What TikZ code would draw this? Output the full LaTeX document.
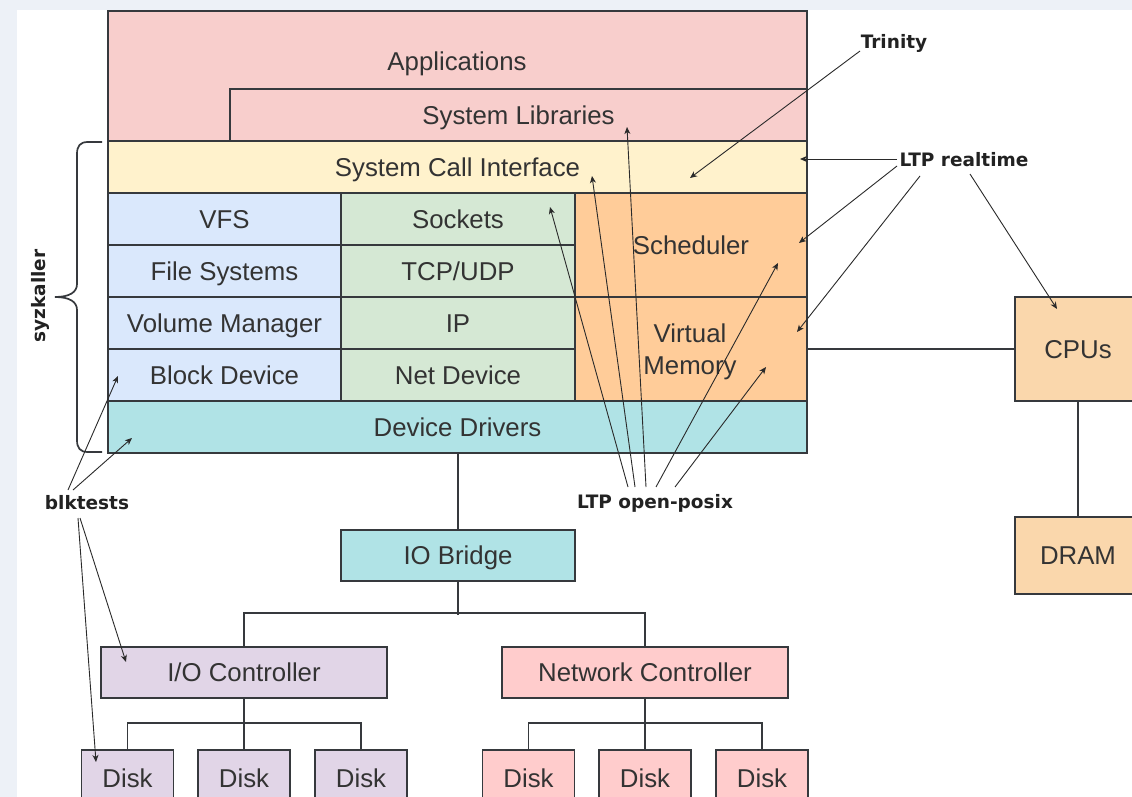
\documentclass[tikz,border=0pt]{standalone}
\usepackage{fontspec}
\setmainfont{Liberation Sans}
\newfontfamily\lblfont{DejaVu Sans}
\usetikzlibrary{arrows.meta}
\definecolor{bgc}{HTML}{EDF1F7}
\definecolor{linec}{HTML}{36393D}
\definecolor{txtc}{HTML}{333333}
\definecolor{lblc}{HTML}{222222}
\definecolor{arrc}{HTML}{2A2A2A}
\definecolor{redl}{HTML}{F8CECC}
\definecolor{yell}{HTML}{FFF2CC}
\definecolor{bluel}{HTML}{DAE8FC}
\definecolor{greenl}{HTML}{D5E8D4}
\definecolor{orang}{HTML}{FFCC99}
\definecolor{cyanl}{HTML}{B0E3E6}
\definecolor{purpl}{HTML}{E1D5E7}
\definecolor{pinkl}{HTML}{FFCCCC}
\definecolor{peach}{HTML}{FAD7AC}
\begin{document}
\begin{tikzpicture}[x=1pt,y=-1pt,
  box/.style={draw=linec,line width=1.7pt,inner sep=0pt,text=txtc,align=center,
    text height=18.5pt,text depth=0pt,font=\fontsize{25.8}{32}\selectfont},
  wh/.style 2 args={minimum width=#1pt,minimum height=#2pt},
  txt/.style={inner sep=0pt,text=txtc,text height=18.5pt,text depth=0pt,
    font=\fontsize{25.8}{32}\selectfont},
  lbl/.style={inner sep=0pt,text=lblc,font=\lblfont\bfseries\fontsize{18.5}{21}\selectfont},
  arr/.style={draw=arrc,line width=0.9pt,-{Stealth[length=7pt,width=6pt,inset=2pt]}},
  wire/.style={draw=linec,line width=1.7pt}]
\useasboundingbox (0,0) rectangle (1132,797);
\clip (0,0) rectangle (1132,797);
\fill[bgc] (0,0) rectangle (1132,797);
\fill[white] (17,10) rectangle (1140,805);

% kernel stack
\node[box,fill=redl,wh={699}{130}] (app) at (457.5,76) {};
\node[txt] (apptext) at (457,61) {Applications};
\node[box,fill=redl,wh={577}{52}] (syslib) at (518.5,115) {System Libraries};
\node[box,fill=yell,wh={699}{52}] (sci) at (457.5,167) {System Call Interface};
\node[box,fill=bluel,wh={233}{52}] (vfs) at (224.5,219) {VFS};
\node[box,fill=bluel,wh={233}{52}] (fs) at (224.5,271) {File Systems};
\node[box,fill=bluel,wh={233}{52}] (volm) at (224.5,323) {Volume Manager};
\node[box,fill=bluel,wh={233}{52}] (bd) at (224.5,375) {Block Device};
\node[box,fill=greenl,wh={234}{52}] (sock) at (458,219) {Sockets};
\node[box,fill=greenl,wh={234}{52}] (tcp) at (458,271) {TCP/UDP};
\node[box,fill=greenl,wh={234}{52}] (ip) at (458,323) {IP};
\node[box,fill=greenl,wh={234}{52}] (nd) at (458,375) {Net Device};
\node[box,fill=orang,wh={232}{104}] (sched) at (691,245) {Scheduler};
\node[box,fill=orang,wh={232}{104}] (virt) at (691,349) {};
\node[inner sep=0pt,text=txtc,align=center,font=\fontsize{25.8}{32}\selectfont]
  (virttext) at (690,352) {Virtual\\Memory};
\node[box,fill=cyanl,wh={699}{52}] (dd) at (457.5,427) {Device Drivers};

% hardware
\node[box,fill=cyanl,wh={234}{51}] (iob) at (458,555.5) {IO Bridge};
\node[box,fill=purpl,wh={286}{51}] (ioc) at (244,672.5) {I/O Controller};
\node[box,fill=pinkl,wh={286}{51}] (nc) at (645,672.5) {Network Controller};
\node[box,fill=purpl,wh={92}{56}] (d1) at (127.5,778) {Disk};
\node[box,fill=purpl,wh={92}{56}] (d2) at (244,778) {Disk};
\node[box,fill=purpl,wh={92}{56}] (d3) at (361,778) {Disk};
\node[box,fill=pinkl,wh={92}{56}] (d4) at (528.5,778) {Disk};
\node[box,fill=pinkl,wh={92}{56}] (d5) at (645,778) {Disk};
\node[box,fill=pinkl,wh={92}{56}] (d6) at (762,778) {Disk};
\node[box,fill=peach,wh={126}{104}] (cpu) at (1078,349) {CPUs};
\node[box,fill=peach,wh={126}{77}] (dram) at (1078,555.5) {DRAM};

% wires
\draw[wire] (dd.south -| iob.north) -- (iob.north);
\draw[wire] (iob.south) -- ++(0,33);
\draw[wire] (ioc.north) -- ++(0,-33) -| (nc.north);
\draw[wire] (ioc.south) -- (d2.north);
\draw[wire] (d1.north) -- ++(0,-26) -| (d3.north);
\draw[wire] (nc.south) -- (d5.north);
\draw[wire] (d4.north) -- ++(0,-26) -| (d6.north);
\draw[wire] (virt.east) -- (cpu.west);
\draw[wire] (cpu.south) -- (dram.north);

% syzkaller brace
\draw[wire] (102,142) -- (88,142) .. controls (80,142) and (77,146) .. (77,154)
  -- (77,284) .. controls (77,292) and (70,297) .. (55,297)
  .. controls (70,297) and (77,302) .. (77,310)
  -- (77,440) .. controls (77,448) and (80,452) .. (88,452) -- (102,452);

% labels
\node[lbl] (trin) at (894,43) {Trinity};
\node[lbl] (ltprt) at (964,160) {LTP realtime};
\node[lbl] (ltpop) at (655,503) {LTP open-posix};
\node[lbl] (blk) at (87,503) {blktests};
\node[lbl,rotate=90] (syz) at (40,296) {syzkaller};

% arrow coordinates
\coordinate (t0) at (860,51);   \coordinate (t1) at (690,178);
\coordinate (r0) at (897,159);  \coordinate (r1) at (800,159);
\coordinate (r2) at (897,166);  \coordinate (r3) at (799,243);
\coordinate (r4) at (920,176);  \coordinate (r5) at (797,332);
\coordinate (r6) at (970,174);  \coordinate (r7) at (1057,309);
\coordinate (p0) at (628,487);  \coordinate (p1) at (550,207);
\coordinate (p2) at (635,487);  \coordinate (p3) at (592,176);
\coordinate (p4) at (646,487);  \coordinate (p5) at (627,127);
\coordinate (p6) at (656,487);  \coordinate (p7) at (778,263);
\coordinate (p8) at (675,487);  \coordinate (p9) at (766,367);
\coordinate (b0) at (68,490);   \coordinate (b1) at (118,376);
\coordinate (b2) at (73,490);   \coordinate (b3) at (132,438);
\coordinate (b4) at (80,518);   \coordinate (b5) at (126,662);
\coordinate (b6) at (78,518);   \coordinate (b7) at (96,762);

\draw[arr] (t0) -- (t1);
\draw[arr] (r0) -- (r1);
\draw[arr] (r2) -- (r3);
\draw[arr] (r4) -- (r5);
\draw[arr] (r6) -- (r7);
\draw[arr] (p0) -- (p1);
\draw[arr] (p2) -- (p3);
\draw[arr] (p4) -- (p5);
\draw[arr] (p6) -- (p7);
\draw[arr] (p8) -- (p9);
\draw[arr] (b0) -- (b1);
\draw[arr] (b2) -- (b3);
\draw[arr] (b4) -- (b5);
\draw[arr] (b6) -- (b7);
\end{tikzpicture}
\end{document}
